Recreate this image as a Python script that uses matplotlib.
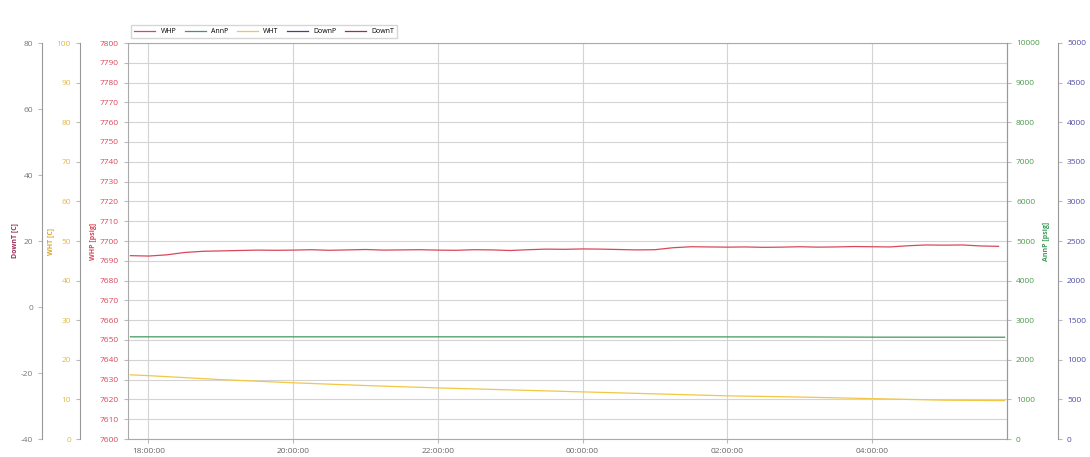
import numpy as np
import pandas as pd
import matplotlib
matplotlib.use('Agg')
import matplotlib.pyplot as plt
import matplotlib.dates as mdates

plt.rcParams['font.family'] = ['Open Sans', 'DejaVu Sans']
plt.rcParams['axes.unicode_minus'] = False

# WHP readings every 15 minutes, 17:45 -> 05:45
whp_times = pd.date_range('2020-01-01 17:45', '2020-01-02 05:45', freq='15min')
whp_values = [7692.6, 7692.4, 7693.0, 7694.2, 7694.8, 7695.0, 7695.2, 7695.4, 7695.3,
               7695.4, 7695.6, 7695.3, 7695.5, 7695.7, 7695.4, 7695.5, 7695.6, 7695.4,
               7695.3, 7695.6, 7695.5, 7695.2, 7695.6, 7695.9, 7695.8, 7696.0, 7695.9,
               7695.7, 7695.5, 7695.6, 7696.6, 7697.1, 7697.0, 7696.9, 7697.0, 7696.8,
               7696.9, 7697.1, 7696.9, 7697.0, 7697.2, 7697.1, 7697.0, 7697.6, 7698.0,
               7697.9, 7698.0, 7697.5, 7697.3]

# WHT (hourly-ish)
wht_times = pd.to_datetime(['2020-01-01 17:45', '2020-01-01 18:00', '2020-01-01 19:00',
                            '2020-01-01 20:00', '2020-01-01 21:00', '2020-01-01 22:00',
                            '2020-01-01 23:00', '2020-01-02 00:00', '2020-01-02 01:00',
                            '2020-01-02 02:00', '2020-01-02 03:00', '2020-01-02 04:00',
                            '2020-01-02 05:00', '2020-01-02 05:50'])
wht_values = [16.2, 16.0, 15.0, 14.2, 13.5, 12.9, 12.4, 11.9, 11.4, 10.9, 10.6, 10.2, 9.8, 9.7]

# AnnP
annp_times = pd.to_datetime(['2020-01-01 17:45', '2020-01-01 22:00', '2020-01-02 03:00',
                             '2020-01-02 04:00', '2020-01-02 05:50'])
annp_values = [2580, 2580, 2578, 2572, 2570]

# DownP / DownT: no data in view
downp_times, downp_values = [], []
downt_times, downt_values = [], []

x_start = pd.Timestamp('2020-01-01 17:43')
x_end = pd.Timestamp('2020-01-02 05:52')

c_whp = '#d9485a'
c_annp = '#3f9a5c'
c_wht = '#f2c744'
c_downp = '#3f3fa0'
c_downt = '#9a2f5a'

fig = plt.figure(figsize=(10.9, 4.57), dpi=100)
ax = fig.add_axes([128 / 1090, 1 - 439 / 457, 879 / 1090, 396 / 457])

ax_wht = ax.twinx()
ax_downt = ax.twinx()
ax_annp = ax.twinx()
ax_downp = ax.twinx()

# move extra spines
for a, side, pos in [(ax_wht, 'left', -0.0546), (ax_downt, 'left', -0.0978),
                     (ax_annp, 'right', 1.0), (ax_downp, 'right', 1.058)]:
    for s in a.spines.values():
        s.set_visible(False)
    a.spines[side].set_visible(True)
    a.spines[side].set_position(('axes', pos))
    a.spines[side].set_color('#999999')
    a.yaxis.set_ticks_position(side)
    a.yaxis.set_label_position(side)

l1, = ax.plot(whp_times, whp_values, color=c_whp, lw=0.9, label='WHP')
l2, = ax_annp.plot(annp_times, annp_values, color=c_annp, lw=0.9, label='AnnP')
l3, = ax_wht.plot(wht_times, wht_values, color=c_wht, lw=0.9, label='WHT')
l4, = ax_downp.plot(downp_times, downp_values, color=c_downp, lw=0.9, label='DownP')
l5, = ax_downt.plot(downt_times, downt_values, color=c_downt, lw=0.9, label='DownT')

ax.set_ylim(7600, 7800)
ax.set_yticks(np.arange(7600, 7801, 10))
ax_wht.set_ylim(0, 100)
ax_wht.set_yticks(np.arange(0, 101, 10))
ax_downt.set_ylim(-40, 80)
ax_downt.set_yticks(np.arange(-40, 81, 20))
ax_annp.set_ylim(0, 10000)
ax_annp.set_yticks(np.arange(0, 10001, 1000))
ax_downp.set_ylim(0, 5000)
ax_downp.set_yticks(np.arange(0, 5001, 500))

ax.set_xlim(x_start, x_end)
ax.xaxis.set_major_locator(mdates.HourLocator(byhour=range(0, 24, 2)))
ax.xaxis.set_major_formatter(mdates.DateFormatter('%H:%M:%S'))

ax.grid(True, color='#d4d4d4', lw=0.8)
for s in ax.spines.values():
    s.set_color('#aaaaaa')

ax.tick_params(axis='x', labelsize=6, labelcolor='#666666', length=3, color='#bbbbbb')
ax.tick_params(axis='y', labelsize=6, labelcolor=c_whp, length=3, color='#bbbbbb')
ax_wht.tick_params(labelsize=6, labelcolor='#e3b94a', length=3, color='#bbbbbb')
ax_downt.tick_params(labelsize=6, labelcolor='#777777', length=3, color='#bbbbbb')
ax_annp.tick_params(labelsize=6, labelcolor='#4f9a4f', length=3, color='#bbbbbb')
ax_downp.tick_params(labelsize=6, labelcolor='#5050a8', length=3, color='#bbbbbb')

ax.set_ylabel('WHP [psig]', color=c_whp, fontsize=5, fontweight='bold', labelpad=2)
ax_wht.set_ylabel('WHT [C]', color='#d8a830', fontsize=5, fontweight='bold', labelpad=2)
ax_downt.set_ylabel('DownT [C]', color=c_downt, fontsize=5, fontweight='bold', labelpad=2)
ax_annp.set_ylabel('AnnP [psig]', color=c_annp, fontsize=5, fontweight='bold', labelpad=2)

fig.legend(handles=[l1, l2, l3, l4, l5], loc='upper left',
           bbox_to_anchor=(128 / 1090, 1 - 22 / 457), ncol=5, fontsize=5,
           frameon=True, edgecolor='#cccccc', fancybox=False, handlelength=3,
           columnspacing=1.2, borderpad=0.4)

fig.savefig('out.png', dpi=100)
